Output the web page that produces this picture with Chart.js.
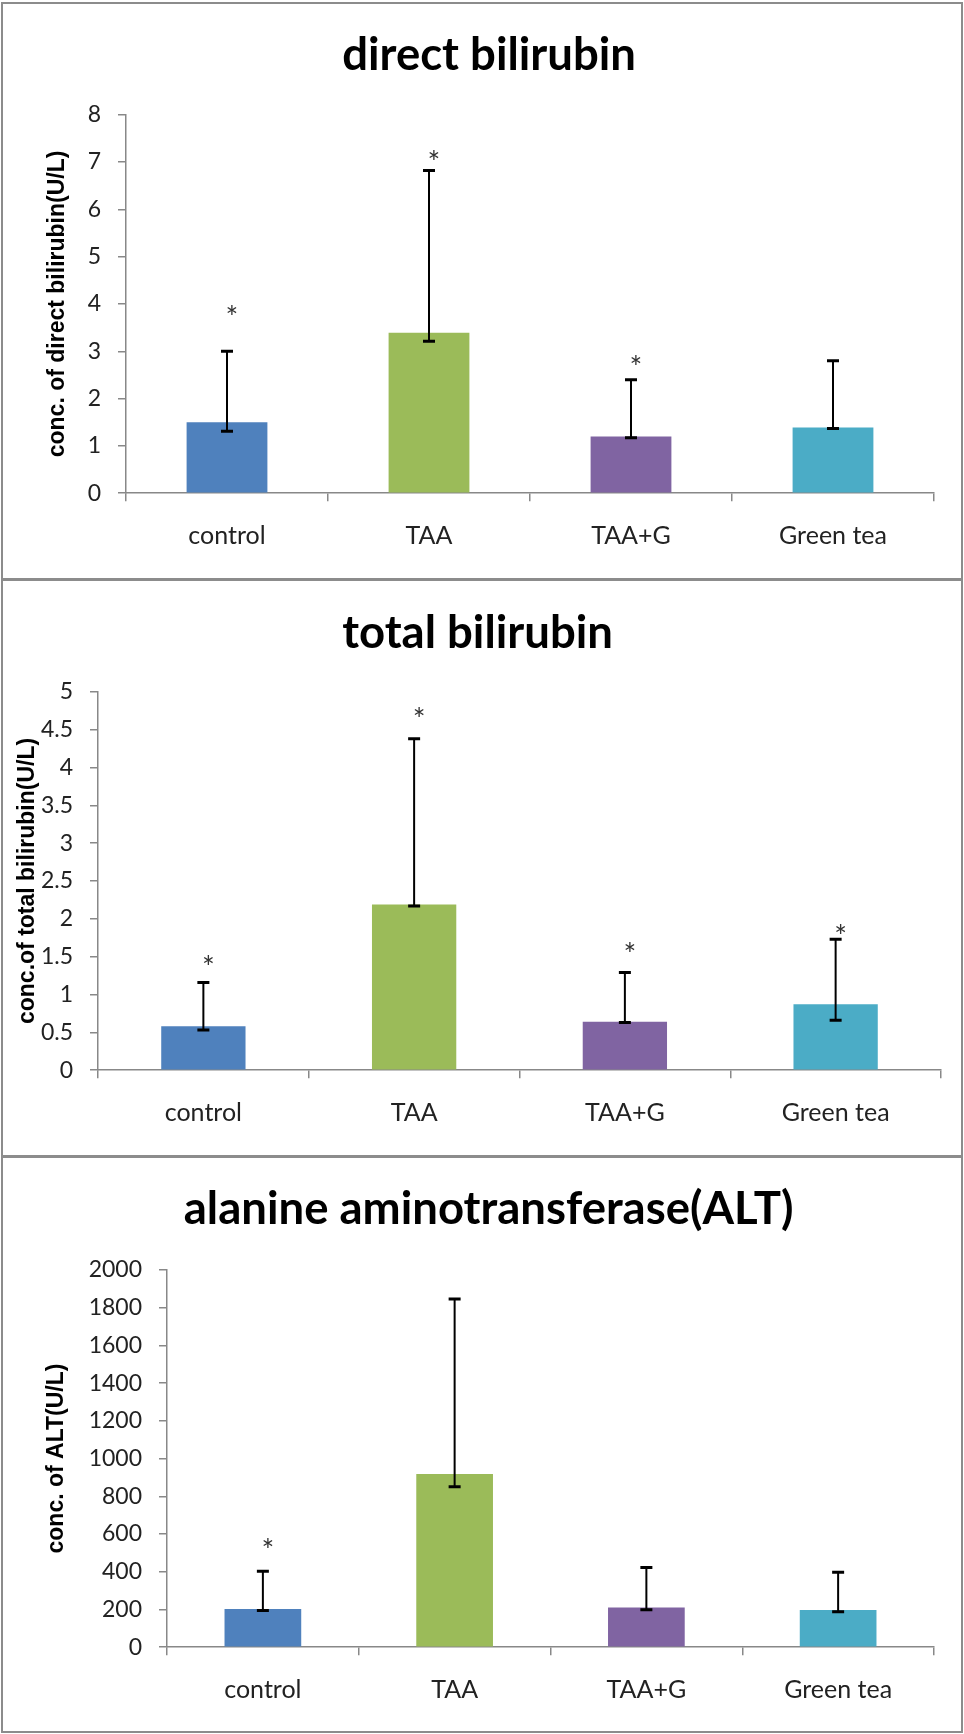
<!DOCTYPE html>
<html>
<head>
<meta charset="utf-8">
<script src="https://cdn.jsdelivr.net/npm/chart.js@4.4.1/dist/chart.umd.min.js"></script>
<style>
  body { margin: 0; background: #fff; }
  #page { position: relative; width: 964px; height: 1734px; overflow: hidden; }
  canvas { position: absolute; left: 0; }
  .frame { position: absolute; left: 1px; top: 2px; width: 962px; height: 1731px;
           border: 2px solid #8c8c8c; box-sizing: border-box; }
  .sep { position: absolute; left: 1px; width: 962px; height: 3px; background: #8c8c8c; }
</style>
</head>
<body>
<div id="page">
  <canvas id="c1" width="964" height="580" style="top:0px"></canvas>
  <canvas id="c2" width="964" height="577" style="top:580px"></canvas>
  <canvas id="c3" width="964" height="577" style="top:1157px"></canvas>
  <div class="frame"></div>
  <div class="sep" style="top:578px"></div>
  <div class="sep" style="top:1155px"></div>
</div>
<script>
// groups on the x axis
const groups = ["control", "TAA", "TAA+G", "Green tea"];

// direct bilirubin
const directMean = [1.5, 3.39, 1.2, 1.39];
const directLow = [1.31, 3.21, 1.17, 1.37];
const directHigh = [3.0, 6.82, 2.4, 2.8];
const directStar = [3.87, 7.14, 2.82, null];
const directTicks = ["0", "1", "2", "3", "4", "5", "6", "7", "8"];

// total bilirubin
const totalMean = [0.58, 2.19, 0.64, 0.87];
const totalLow = [0.53, 2.17, 0.63, 0.66];
const totalHigh = [1.16, 4.38, 1.29, 1.73];
const totalStar = [1.45, 4.73, 1.63, 1.87];
const totalTicks = ["0", "0.5", "1", "1.5", "2", "2.5", "3", "3.5", "4", "4.5", "5"];

// ALT
const altMean = [203, 918, 211, 197];
const altLow = [194, 851, 199, 188];
const altHigh = [403, 1846, 422, 397];
const altStar = [553, null, null, null];
const altTicks = ["0", "200", "400", "600", "800", "1000", "1200", "1400", "1600", "1800", "2000"];

const barColors = ["#4f81bd", "#9bbb59", "#8064a2", "#4bacc6"];
const axisGray = "#888888";

// error bars + asterisks, drawn from the y scale
function errorPlugin(low, high, star) {
  return {
    id: "errbars",
    afterDatasetsDraw(chart) {
      const ctx = chart.ctx;
      const y = chart.scales.y;
      const bars = chart.getDatasetMeta(0).data;
      ctx.save();
      ctx.strokeStyle = "#000";
      bars.forEach((bar, i) => {
        const x = bar.x;
        const y1 = y.getPixelForValue(low[i]);
        const y2 = y.getPixelForValue(high[i]);
        ctx.lineWidth = 2;
        ctx.beginPath();
        ctx.moveTo(x, y1);
        ctx.lineTo(x, y2);
        ctx.stroke();
        ctx.lineWidth = 3;
        ctx.beginPath();
        ctx.moveTo(x - 6, y1); ctx.lineTo(x + 6, y1);
        ctx.moveTo(x - 6, y2); ctx.lineTo(x + 6, y2);
        ctx.stroke();
        if (star[i] != null) {
          ctx.font = "30px Lato";
          ctx.fillStyle = "#333";
          ctx.textAlign = "center";
          ctx.textBaseline = "alphabetic";
          const m = ctx.measureText("*");
          const sy = y.getPixelForValue(star[i]);
          ctx.fillText("*", x + 5, sy + (m.actualBoundingBoxAscent - m.actualBoundingBoxDescent) / 2);
        }
      });
      ctx.restore();
    }
  };
}

function makeChart(id, cfg) {
  new Chart(document.getElementById(id), {
    type: "bar",
    data: {
      labels: groups,
      datasets: [{
        data: cfg.mean,
        backgroundColor: barColors,
        borderWidth: 0,
        barPercentage: 0.4,
        categoryPercentage: 1.0
      }]
    },
    options: {
      responsive: false,
      animation: false,
      layout: { padding: { left: cfg.padLeft, right: cfg.padRight, top: 0, bottom: 0 } },
      plugins: {
        legend: { display: false },
        tooltip: { enabled: false },
        title: {
          display: true,
          text: cfg.title,
          color: "#000",
          font: { family: "Lato", weight: "bold", size: 45.5, lineHeight: 1.2 },
          padding: { top: cfg.titleTop, bottom: cfg.titleBottom }
        }
      },
      scales: {
        x: {
          grid: { offset: true, drawOnChartArea: false, tickLength: 8, color: axisGray, lineWidth: 1.5 },
          border: { color: axisGray, width: 1.5 },
          ticks: { font: { family: "Lato", size: 25 }, color: "#222", padding: 20 },
          afterFit: s => { s.height = 86.8; }
        },
        y: {
          min: 0,
          max: cfg.max,
          ticks: {
            stepSize: cfg.step,
            callback: (v, i) => cfg.ticks[i],
            font: { family: "Lato", size: 23 },
            color: "#222",
            padding: 17
          },
          grid: { drawOnChartArea: false, tickLength: 8, color: axisGray, lineWidth: 1.5 },
          border: { color: axisGray, width: 1.5 },
          title: {
            display: true,
            text: cfg.yTitle,
            color: "#000",
            font: { family: "Liberation Sans", weight: "bold", size: 23, lineHeight: 1.2 },
            padding: 0
          },
          afterFit: s => { s.width = cfg.yWidth; }
        }
      }
    },
    plugins: [errorPlugin(cfg.low, cfg.high, cfg.star)]
  });
}

makeChart("c1", {
  title: "direct bilirubin", yTitle: "conc. of direct bilirubin(U/L)",
  mean: directMean, low: directLow, high: directHigh, star: directStar,
  ticks: directTicks, max: 8, step: 1,
  padLeft: 44.2, yWidth: 81.8, padRight: 30, titleTop: 28.2, titleBottom: 31.9
});

makeChart("c2", {
  title: "total bilirubin", yTitle: "conc.of total bilirubin(U/L)",
  mean: totalMean, low: totalLow, high: totalHigh, star: totalStar,
  ticks: totalTicks, max: 5, step: 0.5,
  padLeft: 14.2, yWidth: 83.8, padRight: 23, titleTop: 25.7, titleBottom: 31.4
});

makeChart("c3", {
  title: "alanine aminotransferase(ALT)", yTitle: "conc. of ALT(U/L)",
  mean: altMean, low: altLow, high: altHigh, star: altStar,
  ticks: altTicks, max: 2000, step: 200,
  padLeft: 43.2, yWidth: 123.8, padRight: 30, titleTop: 25.3, titleBottom: 33
});
</script>
</body>
</html>
